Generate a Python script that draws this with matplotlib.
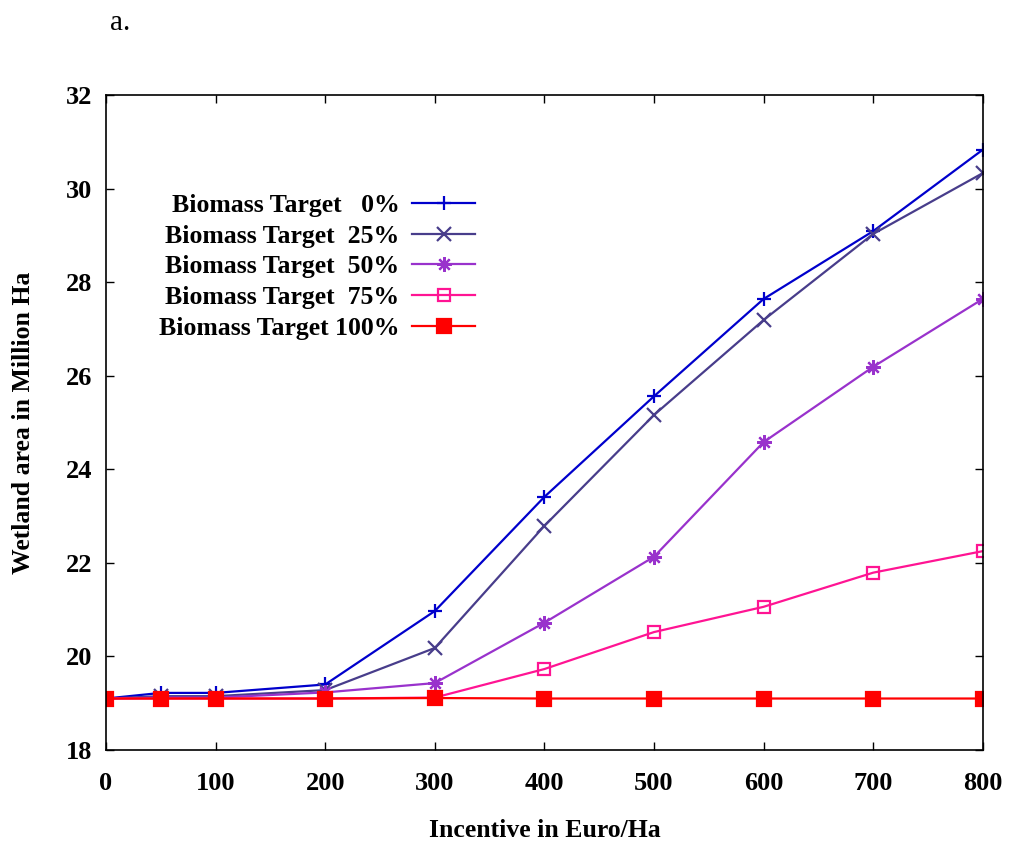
import matplotlib
matplotlib.use("Agg")
import matplotlib.pyplot as plt

plt.rcParams['font.family'] = ['Liberation Serif', 'DejaVu Serif']
plt.rcParams['font.weight'] = 'bold'

incentive = [0, 50, 100, 200, 300, 400, 500, 600, 700, 800]
target_0 = [19.1, 19.22, 19.22, 19.4, 20.97, 23.41, 25.56, 27.64, 29.09, 30.83]
target_25 = [19.1, 19.15, 19.15, 19.28, 20.18, 22.79, 25.16, 27.19, 29.03, 30.33]
target_50 = [19.1, 19.12, 19.12, 19.23, 19.43, 20.72, 22.13, 24.58, 26.19, 27.64]
target_75 = [19.1, 19.1, 19.1, 19.1, 19.12, 19.73, 20.52, 21.06, 21.79, 22.25]
target_100 = [19.1, 19.1, 19.1, 19.1, 19.11, 19.1, 19.1, 19.1, 19.1, 19.1]

labels = ["Biomass Target   0%", "Biomass Target  25%", "Biomass Target  50%",
          "Biomass Target  75%", "Biomass Target 100%"]
xticks = [0, 100, 200, 300, 400, 500, 600, 700, 800]
yticks = [18, 20, 22, 24, 26, 28, 30, 32]

series = [target_0, target_25, target_50, target_75, target_100]
colors = ["#0000cc", "#483d8b", "#9932cc", "#ff1493", "#ff0000"]
markers = ["+", "x", (8, 2, 0), "s", "s"]
msizes = [10.5, 9.5, 10.5, 9, 10]
faces = [None, None, None, "none", "#ff0000"]

fig = plt.figure(figsize=(10.1, 8.46), dpi=100)
ax = fig.add_axes([0.105, 0.1135, 0.868, 0.7742])

for ys, lab, c, m, ms, fc in zip(series, labels, colors, markers, msizes, faces):
    kw = dict(color=c, marker=m, markersize=ms, linewidth=1.6,
              markeredgewidth=1.6, label=lab)
    if fc is not None:
        kw['markerfacecolor'] = fc
    ax.plot(incentive, ys, **kw)

ax.set_xlim(0, 800)
ax.set_ylim(18, 32)
ax.set_xticks(xticks)
ax.set_yticks(yticks)
ax.tick_params(direction='in', length=6, width=1, top=True, right=True,
               labelsize=19)
ax.tick_params(axis='x', pad=16)
ax.tick_params(axis='y', pad=10)
for lbl in ax.get_xticklabels() + ax.get_yticklabels():
    lbl.set_fontweight('bold')
for s in ax.spines.values():
    s.set_linewidth(1.2)

ax.set_xlabel("Incentive in Euro/Ha", fontsize=18.5, fontweight='bold', labelpad=17)
ax.set_ylabel("Wetland area in Million Ha", fontsize=18.5, fontweight='bold', labelpad=22)

leg = ax.legend(loc='upper right', bbox_to_anchor=(0.421, 0.849), frameon=False,
                markerfirst=False, handlelength=2.45,
                labelspacing=0.3, borderpad=0, borderaxespad=0, handletextpad=0.5,
                prop={'weight': 'bold', 'size': 18.5})

fig.text(0.109, 0.973, "a.", fontsize=21, fontweight='normal', va='center')

fig.savefig("out.png", dpi=100)
plt.close(fig)
